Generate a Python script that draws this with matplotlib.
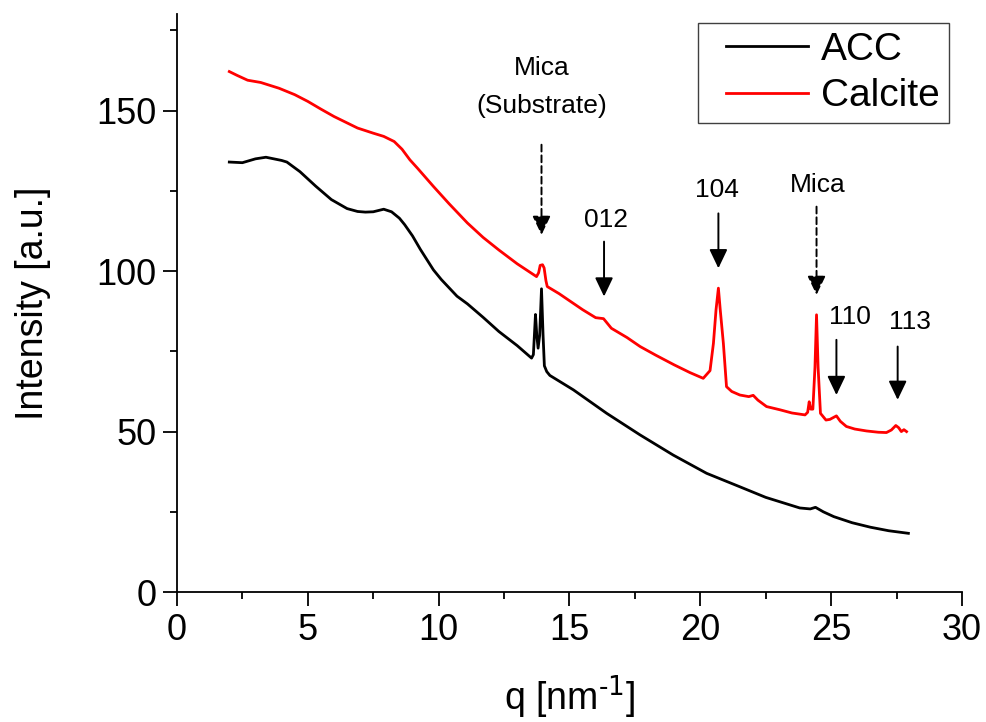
import matplotlib
matplotlib.use("Agg")
import matplotlib.pyplot as plt
from matplotlib.ticker import MultipleLocator
from matplotlib.lines import Line2D
from matplotlib.legend_handler import HandlerLine2D

plt.rcParams['font.family'] = ['Liberation Sans', 'DejaVu Sans']

# ACC curve (black)
q_acc = [2.0, 2.5, 3.0, 3.4, 4.0, 4.2, 4.7, 5.3, 5.9, 6.5, 6.9, 7.2, 7.5, 7.9,
         8.2, 8.5, 8.7, 9.0, 9.3, 9.8, 10.1, 10.4, 10.7, 11.1, 11.7, 12.3, 13.0,
         13.55, 13.62, 13.7, 13.75, 13.8, 13.86, 13.93, 13.99, 14.04, 14.13,
         14.25, 15.15, 16.42, 17.69, 18.96, 20.24, 21.51, 22.5, 23.8, 24.2,
         24.4, 24.7, 25.1, 25.8, 26.5, 27.2, 27.95]
i_acc = [134, 133.8, 135, 135.5, 134.5, 134, 131, 126.5, 122.3, 119.5, 118.6,
         118.4, 118.5, 119.3, 118.5, 116.5, 114.5, 111, 106.8, 100.4, 97.4, 94.8,
         92.2, 89.8, 85.6, 81.2, 76.8, 72.9, 74, 86.5, 80, 76, 80, 94.5, 80, 70.5,
         68.7, 67.5, 63, 55.7, 49, 42.7, 37, 32.8, 29.5, 26.2, 25.9, 26.4, 25,
         23.5, 21.6, 20.2, 19.1, 18.3]

# Calcite curve (red)
q_cal = [2.0, 2.3, 2.7, 3.2, 3.9, 4.5, 5.0, 5.5, 6.0, 6.9, 7.5, 7.9, 8.3, 8.6,
         8.9, 9.2, 9.8, 10.4, 11.1, 11.7, 12.3, 13.0, 13.74, 13.82, 13.88, 13.97,
         14.03, 14.1, 14.15, 14.6, 15.5, 16.0, 16.3, 16.6, 17.2, 17.7, 18.3,
         19.0, 19.6, 20.11, 20.37, 20.5, 20.6, 20.69, 20.76, 20.88, 21.0, 21.2,
         21.51, 21.85, 22.02, 22.2, 22.53, 23.04, 23.5, 24.0, 24.1, 24.16,
         24.22, 24.3, 24.38, 24.44, 24.5, 24.59, 24.8, 24.95, 25.2, 25.35, 25.58,
         25.9, 26.35, 26.8, 27.11, 27.3, 27.47, 27.58, 27.68, 27.78, 27.88]
i_cal = [162.2, 161, 159.5, 158.8, 157, 155, 152.9, 150.5, 148.2, 144.6, 143, 142,
         140.4, 138, 134.7, 132, 126.4, 121, 115, 110.5, 106.6, 102.3, 98.3, 99.5,
         101.8, 102, 101, 97, 95.2, 93, 88, 85.5, 85.2, 82.2, 79.3, 76.5, 73.8,
         70.8, 68.4, 66.6, 69, 77.5, 88, 94.7, 88, 77.5, 64, 62.5, 61.4, 60.9,
         61.3, 59.8, 57.8, 56.8, 55.8, 55.2, 56, 59.3, 57, 57, 70, 86.4, 70, 55.7,
         53.6, 53.8, 54.9, 53.2, 51.6, 50.8, 50.2, 49.8, 49.7, 50.5, 51.9, 51.2,
         50, 50.6, 50]

# peak annotations: label, arrow q, text position, arrow start/end y, dashed
ann_labels = ['Mica\n(Substrate)', '012', '104', 'Mica', '110', '113']
ann_q = [13.93, 16.32, 20.69, 24.44, 25.2, 27.54]
ann_text_q = [13.93, 16.39, 20.62, 24.5, 25.72, 28.0]
ann_text_y = [157.5, 115.8, 125.3, 126.9, 85.8, 84.3]
ann_y0 = [139.4, 109.2, 118.0, 120.1, 78.6, 76.5]
ann_y1 = [111.3, 92.1, 100.9, 92.6, 61.4, 59.9]
ann_dashed = [True, False, False, True, False, False]

fig = plt.figure(figsize=(9.87, 7.22), dpi=100)
ax = fig.add_axes([0.1793, 0.18, 0.7954, 0.8])

ax.plot(q_acc, i_acc, color='black', lw=2.0, label='ACC')
ax.plot(q_cal, i_cal, color='#ff0000', lw=2.0, label='Calcite')

for lab, q, tq, ty, y0, y1, d in zip(ann_labels, ann_q, ann_text_q, ann_text_y,
                                      ann_y0, ann_y1, ann_dashed):
    ls = (0, (3.5, 2)) if d else '-'
    ax.annotate('', xy=(q, y1), xytext=(q, y0),
                arrowprops=dict(arrowstyle='-|>,head_width=0.55,head_length=1.15',
                                mutation_scale=10, color='black', lw=1.4,
                                linestyle=ls, shrinkA=0, shrinkB=0))
    ax.text(tq, ty, lab, ha='center', va='center', fontsize=19,
            linespacing=1.75)

ax.set_xlim(0, 30)
ax.set_ylim(0, 180)
ax.xaxis.set_major_locator(MultipleLocator(5))
ax.xaxis.set_minor_locator(MultipleLocator(2.5))
ax.yaxis.set_major_locator(MultipleLocator(50))
ax.yaxis.set_minor_locator(MultipleLocator(25))
ax.tick_params(which='major', direction='out', length=10, width=1.3,
               labelsize=26, pad=5)
ax.tick_params(which='minor', direction='out', length=5, width=1.3)
for s in ['top', 'right']:
    ax.spines[s].set_visible(False)
for s in ['left', 'bottom']:
    ax.spines[s].set_linewidth(1.3)

ax.set_xlabel('q [nm$^{\\text{-1}}$]', fontsize=27, labelpad=18)
ax.set_ylabel('Intensity [a.u.]', fontsize=27, labelpad=32)

leg = ax.legend(loc='upper right', bbox_to_anchor=(0.983, 0.985),
                borderaxespad=0, fontsize=28, fancybox=False, framealpha=1,
                handlelength=2.6, handletextpad=0.35, labelspacing=0.27,
                borderpad=0.22,
                handler_map={Line2D: HandlerLine2D(xpad=0.5)})
leg.get_frame().set_edgecolor('#404040')
leg.get_frame().set_linewidth(1.0)

fig.savefig('out.png', dpi=100)
